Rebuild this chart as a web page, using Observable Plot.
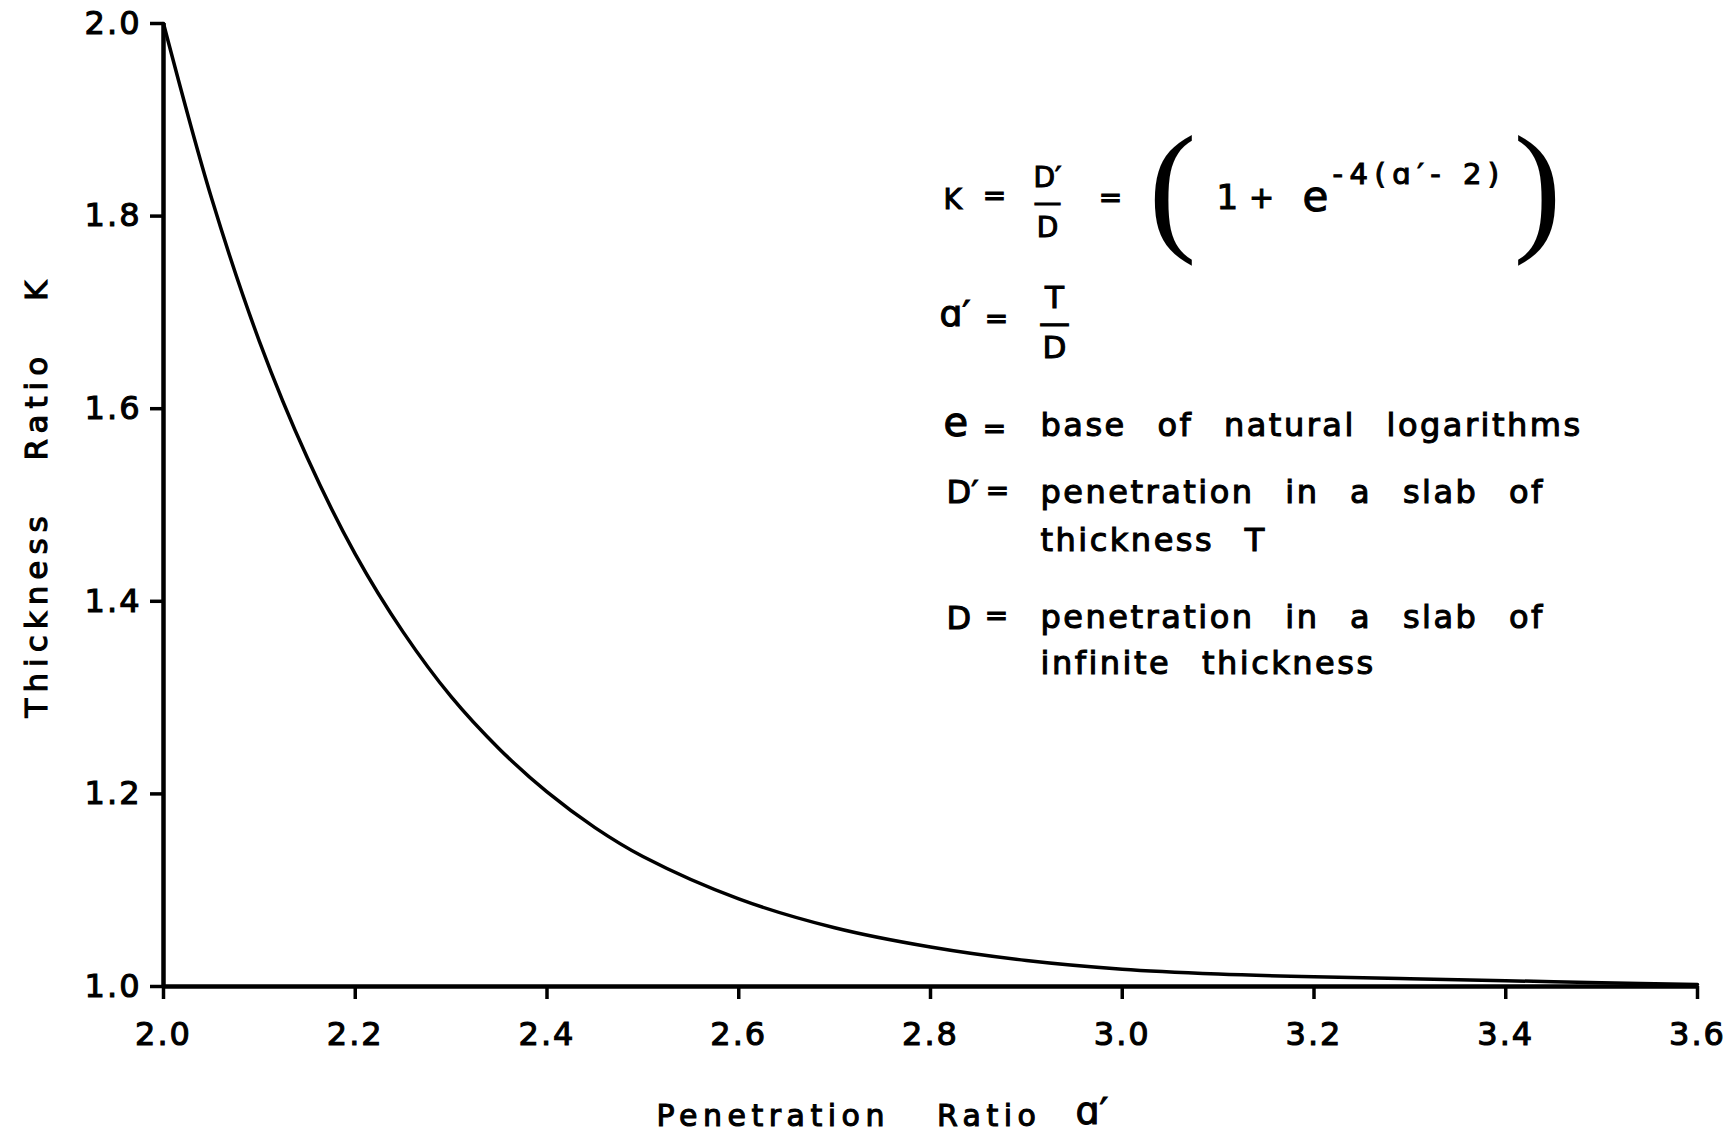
<!DOCTYPE html>
<html>
<head>
<meta charset="utf-8">
<script src="https://cdn.jsdelivr.net/npm/d3@7"></script>
<script src="https://cdn.jsdelivr.net/npm/@observablehq/plot@0.6"></script>
<style>
  html, body { margin: 0; padding: 0; background: #fff; }
  #chart svg { display: block; }
  #chart svg text { stroke: #000; stroke-width: 1.1px; }
  g[aria-label="x-axis tick label"] text, g[aria-label="y-axis tick label"] text { letter-spacing: 2px; }
  g[aria-description="xtitle"] text { letter-spacing: 5.5px; word-spacing: 32px; }
  g[aria-description="ytitle"] text { letter-spacing: 6px; word-spacing: 34px; }
  g[aria-description="body"] text { letter-spacing: 2.5px; word-spacing: 18px; }
  g[aria-description="expo"] text { letter-spacing: 6.5px; }
  #chart svg g[aria-description="paren"] text { stroke: none; }
</style>
</head>
<body>
<div id="chart"></div>
<script>
// ---- data ----
const penetrationRatio = [2.0, 2.05, 2.1, 2.15, 2.2, 2.25, 2.3, 2.35, 2.4, 2.45, 2.5, 2.6, 2.7, 2.8, 2.9, 3.0, 3.1, 3.2, 3.3, 3.4, 3.5, 3.6];
const thicknessRatio   = [2.0, 1.819, 1.670, 1.549, 1.449, 1.368, 1.301, 1.247, 1.202, 1.165, 1.135, 1.091, 1.061, 1.041, 1.027, 1.018, 1.013, 1.010, 1.008, 1.006, 1.004, 1.002];
const xTicks = [2.0, 2.2, 2.4, 2.6, 2.8, 3.0, 3.2, 3.4, 3.6];
const yTicks = [1.0, 1.2, 1.4, 1.6, 1.8, 2.0];
const xTitle = ["Penetration Ratio", "\u0251\u2032"];
const yTitle = "Thickness Ratio K";
const defLines = [
  "base of natural logarithms",
  "penetration in a slab of\nthickness T",
  "penetration in a slab of\ninfinite thickness"
];

// ---- layout ----
const W = 1729, H = 1134, ML = 163, MR = 32, MT = 23, MB = 148;
const FONT = "DejaVu Sans";
const data = penetrationRatio.map((a, i) => ({a, k: thicknessRatio[i]}));

function note(s, x, y, o = {}) {
  return Plot.text([s], {
    text: d => d, frameAnchor: "top-left", dx: x - ML, dy: y - MT,
    textAnchor: "start", lineAnchor: "bottom", fontSize: 32, fill: "#000",
    fontFamily: FONT, ...o
  });
}

const chart = Plot.plot({
  width: W, height: H,
  marginLeft: ML, marginRight: MR, marginTop: MT, marginBottom: MB,
  style: {fontFamily: FONT, color: "#000", background: "#fff"},
  x: {domain: [2.0, 3.6]},
  y: {domain: [1.0, 2.0]},
  marks: [
    Plot.axisX({ticks: xTicks, tickFormat: d3.format(".1f"), tickSize: 13, tickPadding: 23, fontSize: 32, label: null, strokeWidth: 3.5}),
    Plot.axisY({ticks: yTicks, tickFormat: d3.format(".1f"), tickSize: 13, tickPadding: 9, fontSize: 32, label: null, strokeWidth: 3.5}),
    Plot.ruleX([2.0], {stroke: "#000", strokeWidth: 4.5}),
    Plot.ruleY([1.0], {stroke: "#000", strokeWidth: 4.5}),
    Plot.line(data, {x: "a", y: "k", curve: "catmull-rom", stroke: "#000", strokeWidth: 3.5}),

    // axis titles
    note(xTitle[0], 656, 1125, {fontSize: 30, ariaDescription: "xtitle"}),
    note(xTitle[1], 1075, 1123, {fontSize: 38}),
    note(yTitle, 46, 717, {fontSize: 31, rotate: -90, ariaDescription: "ytitle"}),

    // formula: K = D'/D = ( 1 + e^{-4(a'-2)} )
    note("K", 943, 208, {fontSize: 28}),
    note("=", 994, 204, {fontSize: 28, textAnchor: "middle"}),
    note("D\u2032\n\u2014\nD", 1047, 236, {fontSize: 28, lineHeight: 0.893, textAnchor: "middle"}),
    note("=", 1110, 206, {fontSize: 28, textAnchor: "middle"}),
    note("(", 1172, 188, {fontSize: 144, fontFamily: "Liberation Serif", textAnchor: "middle", lineAnchor: "middle", ariaDescription: "paren"}),
    note("1", 1216, 208, {fontSize: 34}),
    note("+", 1261, 207, {fontSize: 30, textAnchor: "middle"}),
    note("e", 1302, 210, {fontSize: 42}),
    note("-4(\u0251\u2032- 2)", 1332, 183, {fontSize: 29, ariaDescription: "expo"}),
    note(")", 1537, 188, {fontSize: 144, fontFamily: "Liberation Serif", textAnchor: "middle", lineAnchor: "middle", ariaDescription: "paren"}),

    // a' = T/D
    note("\u0251\u2032", 939, 325, {fontSize: 36}),
    note("=", 996, 327, {fontSize: 28, textAnchor: "middle"}),
    note("T\n\u2014\nD", 1054, 357, {fontSize: 31, lineHeight: 0.806, textAnchor: "middle"}),

    // definitions
    note("e", 943, 435, {fontSize: 40}),
    note("=", 994, 437, {fontSize: 28, textAnchor: "middle"}),
    note(defLines[0], 1040, 435, {ariaDescription: "body"}),

    note("D\u2032", 946, 502, {fontSize: 32}),
    note("=", 997, 499, {fontSize: 28, textAnchor: "middle"}),
    note(defLines[1], 1040, 550, {lineHeight: 1.5, ariaDescription: "body"}),

    note("D", 946, 628, {fontSize: 32}),
    note("=", 996, 624, {fontSize: 28, textAnchor: "middle"}),
    note(defLines[2], 1040, 673, {lineHeight: 1.41, ariaDescription: "body"})
  ]
});

document.getElementById("chart").appendChild(chart);
</script>
</body>
</html>
